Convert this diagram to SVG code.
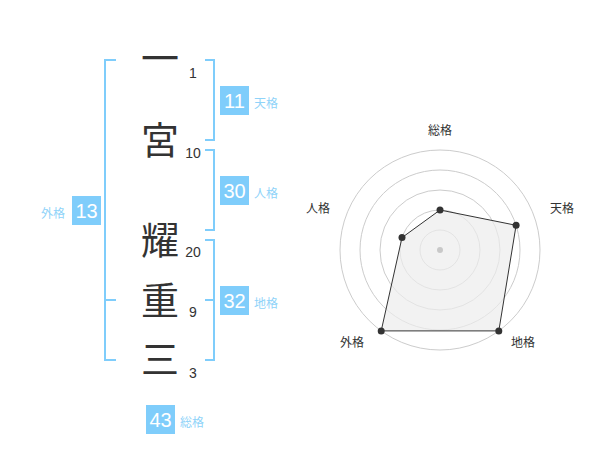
<svg xmlns="http://www.w3.org/2000/svg" width="600" height="470" viewBox="0 0 600 470">
<style>
.kanji{font-family:"Noto Sans CJK JP","Noto Sans CJK SC",sans-serif;font-size:38px;fill:#333;text-anchor:middle}
.num{font-family:"Liberation Sans",Arial,sans-serif;font-size:14px;fill:#333;text-anchor:middle}
.br{fill:none;stroke:#7fcdfb;stroke-width:2}
.box{fill:#7fcdfb}
.bn{font-family:"Liberation Sans",Arial,sans-serif;font-size:20px;fill:#fff;text-anchor:middle}
.bl{font-family:"Noto Sans CJK JP","Noto Sans CJK SC",sans-serif;font-size:12px;fill:#8fd3f9}
.ring{fill:none;stroke:#cccccc;stroke-width:1}
.rl{font-family:"Noto Sans CJK JP","Noto Sans CJK SC",sans-serif;font-size:12px;fill:#333;text-anchor:middle}
.pt{fill:#333}
</style>
<rect width="600" height="470" fill="#fff"/>
<g id="name">
<g id="k1"><text class="kanji" x="160" y="72">一</text><text class="num" x="193" y="78">1</text></g>
<g id="k2"><text class="kanji" x="160" y="154">宮</text><text class="num" x="193" y="158">10</text></g>
<g id="k3"><text class="kanji" x="160" y="254">耀</text><text class="num" x="193" y="257">20</text></g>
<g id="k4"><text class="kanji" x="160" y="314">重</text><text class="num" x="193" y="317">9</text></g>
<g id="k5"><text class="kanji" x="160" y="373">三</text><text class="num" x="193" y="378">3</text></g>
</g>
<g id="connectors">
<path class="br" d="M116,60 H105 V360 H116 M105,300 H116"/>
<path class="br" d="M205,60 H214 V140 H205"/>
<path class="br" d="M205,150 H214 V230 H205"/>
<path class="br" d="M205,240 H214 V360 H205 M214,300 H205"/>
</g>
<g id="tenkaku"><rect class="box" x="220" y="86" width="29" height="29"/><text class="bn" x="234.5" y="108">11</text><text class="bl" x="254" y="108">天格</text></g>
<g id="jinkaku"><rect class="box" x="220" y="176" width="29" height="29"/><text class="bn" x="234.5" y="198">30</text><text class="bl" x="254" y="198">人格</text></g>
<g id="gaikaku"><rect class="box" x="72" y="196" width="29" height="29"/><text class="bn" x="86.5" y="218">13</text><text class="bl" x="41" y="218">外格</text></g>
<g id="chikaku"><rect class="box" x="220" y="286" width="29" height="29"/><text class="bn" x="234.5" y="308">32</text><text class="bl" x="254" y="308">地格</text></g>
<g id="soukaku"><rect class="box" x="146" y="405" width="29" height="29"/><text class="bn" x="160.5" y="427">43</text><text class="bl" x="180" y="427">総格</text></g>
<g id="radar">
<circle class="ring" cx="440" cy="250" r="20"/>
<circle class="ring" cx="440" cy="250" r="40"/>
<circle class="ring" cx="440" cy="250" r="60"/>
<circle class="ring" cx="440" cy="250" r="80"/>
<circle class="ring" cx="440" cy="250" r="100"/>
<polygon points="440,210 516.1,225.3 498.8,330.9 381.2,330.9 402,237.6" fill="#ececec" fill-opacity="0.7" stroke="#333" stroke-width="1"/>
<circle cx="440" cy="250" r="3" fill="#c8c8c8"/>
<circle class="pt" cx="440" cy="210" r="3.5"/>
<circle class="pt" cx="516.1" cy="225.3" r="3.5"/>
<circle class="pt" cx="498.8" cy="330.9" r="3.5"/>
<circle class="pt" cx="381.2" cy="330.9" r="3.5"/>
<circle class="pt" cx="402" cy="237.6" r="3.5"/>
<text class="rl" x="440" y="135">総格</text>
<text class="rl" x="562" y="213">天格</text>
<text class="rl" x="318" y="213">人格</text>
<text class="rl" x="352" y="347">外格</text>
<text class="rl" x="523" y="347">地格</text>
</g>
</svg>
